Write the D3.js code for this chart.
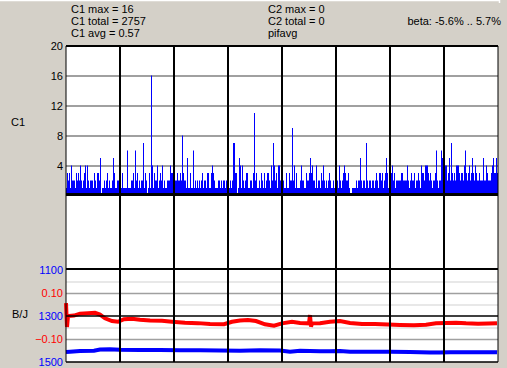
<!DOCTYPE html>
<html>
<head>
<meta charset="utf-8">
<script src="https://cdn.jsdelivr.net/npm/d3@7"></script>
<style>
  body { margin: 0; background: #d4d0c8; }
  svg { display: block; font-family: "Liberation Sans", Arial, sans-serif; }
</style>
</head>
<body>
<div id="chart"></div>
<script>
// C1 counts, one value per pixel column, split by grid division
var c1Div1 = [1,3,2,3,1,4,2,2,2,1,3,2,3,2,4,2,1,2,3,4,1,4,2,1,2,2,2,1,3,2,1,3,3,2,5,0,1,1,2,1,2,3,1,2,1,1,2,5,3,1,1,2,2,2];
var c1Div2 = [2,1,3,1,1,1,1,6,1,1,1,2,2,3,1,6,2,3,1,2,1,2,2,7,1,3,2,0,1,3,1,16,4,1,3,2,2,4,1,2,3,2,4,1,2,1,1,2,2,2,4,3,3,3];
var c1Div3 = [3,2,2,3,2,2,3,2,8,3,2,2,1,5,1,1,3,1,1,6,1,2,1,2,1,2,1,2,3,1,2,2,1,3,3,1,1,3,4,3,2,1,1,1,2,2,1,2,1,2,2,1,2,2];
var c1Div4 = [1,1,2,1,2,7,7,3,3,0,1,5,4,1,4,2,1,2,3,3,1,1,2,2,1,3,11,2,3,1,1,2,1,3,2,1,3,1,2,3,3,2,1,4,2,7,4,2,3,1,4,4,2,3];
var c1Div5 = [2,2,1,1,3,1,1,3,2,2,9,2,4,1,3,1,1,1,2,4,2,2,1,1,3,2,2,3,5,3,4,2,2,1,4,1,2,2,1,3,2,4,2,1,2,1,2,3,2,1,1,2,1,2];
var c1Div6 = [2,2,1,4,2,1,2,3,4,3,2,2,3,1,0,0,1,1,1,1,2,1,2,2,5,2,1,2,2,1,7,2,1,2,2,1,2,2,1,2,3,2,1,3,3,2,3,1,2,3,5,3,1,3];
var c1Div7 = [2,3,4,2,3,1,2,2,2,2,2,3,3,2,2,2,2,4,2,1,2,3,2,2,3,1,2,2,3,2,1,4,3,3,2,4,4,4,3,2,3,2,1,2,2,3,6,2,1,2,2,6,5,2];
var c1Div8 = [3,4,4,2,3,5,2,7,3,2,3,2,4,4,4,3,2,3,3,2,4,6,3,2,3,4,2,3,5,3,2,4,3,2,2,3,2,2,2,5,2,2,4,3,2,2,2,3,4,5,3,3,5,3];

// B/J red series (column index, value)
var redIdx = [0,1,2,8,14,22,29,34,39,46,52,58,66,74,84,96,106,119,132,144,158,166,174,182,190,199,208,216,226,234,243,244,245,246,254,264,274,284,296,309,322,334,348,360,370,380,390,400,412,422,431];
var redVal = [0.056,-0.048,0.000,0.002,0.010,0.012,0.014,0.006,-0.010,-0.022,-0.025,-0.014,-0.012,-0.016,-0.020,-0.021,-0.025,-0.029,-0.031,-0.035,-0.036,-0.025,-0.020,-0.017,-0.022,-0.036,-0.042,-0.032,-0.025,-0.030,-0.032,0.004,-0.046,-0.032,-0.031,-0.025,-0.022,-0.030,-0.035,-0.035,-0.037,-0.039,-0.040,-0.038,-0.032,-0.030,-0.029,-0.032,-0.034,-0.033,-0.032];

// B/J blue series (column index, value)
var blueIdx = [0,4,14,28,34,44,54,74,94,114,134,154,174,194,214,224,234,244,254,264,274,284,304,324,344,364,374,384,404,431];
var blueVal = [1456,1455,1452,1451,1446,1445,1447,1448,1448,1449,1449,1450,1451,1449,1450,1455,1451,1452,1453,1453,1452,1455,1455,1455,1456,1459,1459,1458,1458,1458];

// tick labels
var c1Ticks = [20, 16, 12, 8, 4];
var c1Grid = [4, 8, 12, 16];
var blueTicks = [1100, 1300, 1500];
var redTicks = [0.10, -0.10];
var redMinorGrid = [0.15, 0.05, -0.05, -0.15];

var headerC1 = ["C1 max = 16", "C1 total = 2757", "C1 avg = 0.57"];
var headerC2 = ["C2 max = 0", "C2 total = 0", "pifavg"];
var betaText = "beta: -5.6% .. 5.7%";

var c1Values = [].concat(c1Div1, c1Div2, c1Div3, c1Div4, c1Div5, c1Div6, c1Div7, c1Div8);

var svgWidth = 507;
var svgHeight = 368;
var plotLeft = 66;
var plotRight = 498;
var plotTop = 46;
var plotBottom = 362;

var svg = d3.select("#chart")
    .append("svg")
    .attr("width", svgWidth)
    .attr("height", svgHeight);

// scales
var xScale = d3.scaleLinear().domain([0, 432]).range([plotLeft, plotRight]);
var yTop = d3.scaleLinear().domain([0, 20]).range([195.5, 45.5]);
var yRed = d3.scaleLinear().domain([-0.2, 0.2]).range([362, 270]);
var yBlue = d3.scaleLinear().domain([1100, 1500]).range([270, 362]);

// window frame remnant at the top
svg.append("line").attr("x1", 0).attr("x2", 500).attr("y1", 0.5).attr("y2", 0.5)
    .attr("stroke", "#ffffff").attr("stroke-width", 1.5);
svg.append("line").attr("x1", 499.5).attr("x2", 499.5).attr("y1", 0).attr("y2", 3)
    .attr("stroke", "#ffffff").attr("stroke-width", 1.5);

// plot background
svg.append("rect")
    .attr("x", plotLeft).attr("y", plotTop)
    .attr("width", plotRight - plotLeft).attr("height", plotBottom - plotTop)
    .attr("fill", "#ffffff");

// horizontal grid of C1 panel
var gridTop = svg.append("g")
    .attr("transform", `translate(${plotLeft}, 0)`)
    .call(d3.axisLeft(yTop).tickValues(c1Grid).tickSize(-(plotRight - plotLeft)).tickFormat(""));
gridTop.select(".domain").remove();
gridTop.selectAll("line").attr("stroke", "#808080").attr("stroke-width", 1.3);

// grid of B/J panel
var gridMinor = svg.append("g")
    .attr("transform", `translate(${plotLeft}, 0)`)
    .call(d3.axisLeft(yRed).tickValues(redMinorGrid).tickSize(-(plotRight - plotLeft)).tickFormat(""));
gridMinor.select(".domain").remove();
gridMinor.selectAll("line").attr("stroke", "#e0e0e0").attr("stroke-width", 1.3);

var gridMajor = svg.append("g")
    .attr("transform", `translate(${plotLeft}, 0)`)
    .call(d3.axisLeft(yRed).tickValues(redTicks).tickSize(-(plotRight - plotLeft)).tickFormat(""));
gridMajor.select(".domain").remove();
gridMajor.selectAll("line").attr("stroke", "#a0a0a0").attr("stroke-width", 1.5);

// C1 bars
svg.append("g").selectAll("rect")
    .data(c1Values)
    .enter()
    .append("rect")
    .attr("x", (d, i) => xScale(i))
    .attr("y", d => yTop(d))
    .attr("width", 1)
    .attr("height", d => yTop(0) - yTop(d))
    .attr("fill", "#0000ff");

// B/J lines
var redData = redIdx.map((d, i) => [d, redVal[i]]);
var blueData = blueIdx.map((d, i) => [d, blueVal[i]]);

svg.append("path")
    .datum(redData)
    .attr("d", d3.line().x(d => xScale(d[0])).y(d => yRed(d[1])))
    .attr("fill", "none")
    .attr("stroke", "#ff0000")
    .attr("stroke-width", 4);

svg.append("path")
    .datum(blueData)
    .attr("d", d3.line().x(d => xScale(d[0])).y(d => yBlue(d[1])))
    .attr("fill", "none")
    .attr("stroke", "#0000ff")
    .attr("stroke-width", 4);

// black frame lines
var vLines = d3.range(0, 433, 54);
svg.append("g").selectAll("line")
    .data(vLines)
    .enter()
    .append("line")
    .attr("x1", d => xScale(d))
    .attr("x2", d => xScale(d))
    .attr("y1", plotTop)
    .attr("y2", plotBottom)
    .attr("stroke", "#000000")
    .attr("stroke-width", d => (d === 0 || d === 432) ? 1 : 2);

var hLines = [
    {y: 46, w: 2},
    {y: 194.5, w: 3},
    {y: 269, w: 2},
    {y: yRed(0), w: 1.5},
    {y: 362, w: 1.5}
];
svg.append("g").selectAll("line")
    .data(hLines)
    .enter()
    .append("line")
    .attr("x1", plotLeft)
    .attr("x2", plotRight)
    .attr("y1", d => d.y)
    .attr("y2", d => d.y)
    .attr("stroke", "#000000")
    .attr("stroke-width", d => d.w);

// axes labels
function styleAxis(g, color) {
    g.select(".domain").remove();
    g.selectAll("line").remove();
    g.selectAll("text")
        .attr("fill", color)
        .attr("font-size", "11px")
        .attr("font-family", "Liberation Sans, Arial, sans-serif");
}

var c1Axis = svg.append("g")
    .attr("transform", `translate(${plotLeft}, 0)`)
    .call(d3.axisLeft(yTop).tickValues(c1Ticks).tickSize(0).tickPadding(3));
styleAxis(c1Axis, "#000000");

var blueAxis = svg.append("g")
    .attr("transform", `translate(${plotLeft}, 0)`)
    .call(d3.axisLeft(yBlue).tickValues(blueTicks).tickSize(0).tickPadding(3).tickFormat(d3.format("d")));
styleAxis(blueAxis, "#0000ff");

var redAxis = svg.append("g")
    .attr("transform", `translate(${plotLeft}, 0)`)
    .call(d3.axisLeft(yRed).tickValues(redTicks).tickSize(0).tickPadding(3).tickFormat(d3.format(".2f")));
styleAxis(redAxis, "#ff0000");

svg.append("text").attr("x", 11).attr("y", 126).attr("font-size", "11px").text("C1");
svg.append("text").attr("x", 12).attr("y", 318).attr("font-size", "11px").text("B/J");

// header stats
svg.append("g").selectAll("text")
    .data(headerC1)
    .enter()
    .append("text")
    .attr("x", 71)
    .attr("y", (d, i) => 12.5 + i * 12)
    .attr("font-size", "11px")
    .text(d => d);

svg.append("g").selectAll("text")
    .data(headerC2)
    .enter()
    .append("text")
    .attr("x", 268)
    .attr("y", (d, i) => 12.5 + i * 12)
    .attr("font-size", "11px")
    .text(d => d);

svg.append("text")
    .attr("x", 501)
    .attr("y", 24.5)
    .attr("text-anchor", "end")
    .attr("font-size", "11px")
    .text(betaText);
</script>
</body>
</html>
